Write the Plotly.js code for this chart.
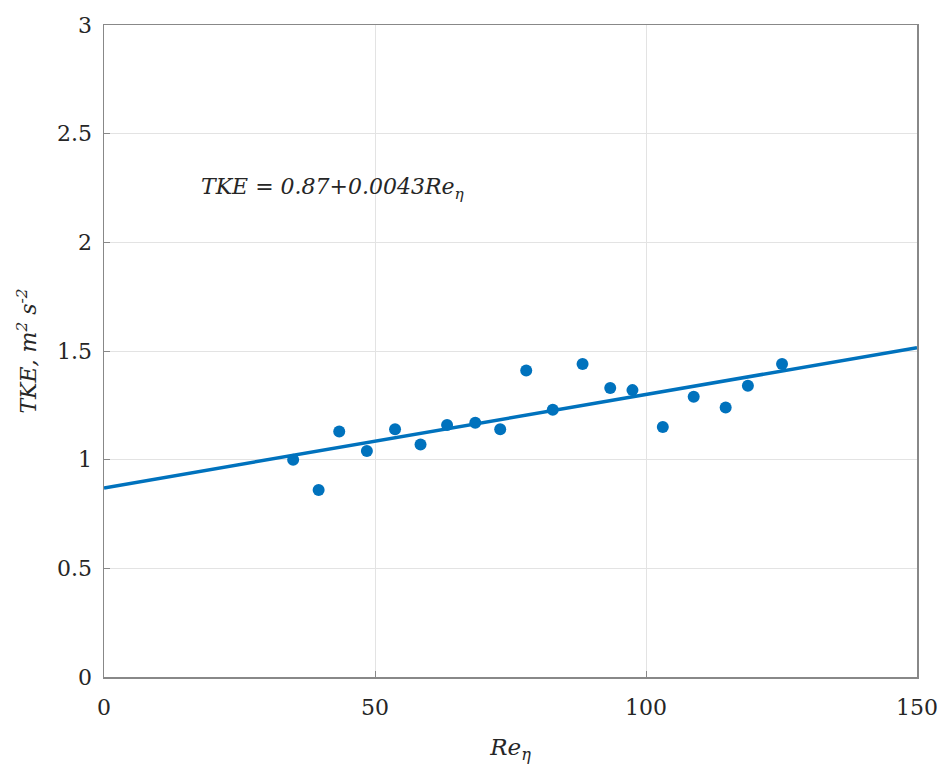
<!DOCTYPE html>
<html>
<head>
<meta charset="utf-8">
<script src="https://cdn.plot.ly/plotly-3.0.1.min.js"></script>
<style>html,body{margin:0;padding:0;background:#fff;}#chart{width:942px;height:767px;}</style>
</head>
<body>
<div id="chart"></div>
<script>
const reEta = [34.9, 39.6, 43.4, 48.5, 53.7, 58.4, 63.3, 68.5, 73.1, 77.9, 82.8, 88.3, 93.4, 97.5, 103.1, 108.8, 114.7, 118.8, 125.1];
const tke   = [1.00, 0.86, 1.13, 1.04, 1.14, 1.07, 1.16, 1.17, 1.14, 1.41, 1.23, 1.44, 1.33, 1.32, 1.15, 1.29, 1.24, 1.34, 1.44];
const fitX = [0, 150];
const intercept = 0.87, slope = 0.0043;
const fitY = fitX.map(x => intercept + slope * x);
const xTicks = [0, 50, 100, 150];
const yTicks = [0, 0.5, 1, 1.5, 2, 2.5, 3];
const yTickText = ['0', '0.5', '1', '1.5', '2', '2.5', '3'];

const blue = '#0072BD';
const font = 'DejaVu Serif, Liberation Serif, serif';

const traces = [
  {x: reEta, y: tke, mode: 'markers', type: 'scatter',
   marker: {color: blue, size: 12}, showlegend: false, hoverinfo: 'skip'},
  {x: fitX, y: fitY, mode: 'lines', type: 'scatter',
   line: {color: blue, width: 3.5}, showlegend: false, hoverinfo: 'skip'}
];

const axisCommon = {
  showline: true, linecolor: '#888', linewidth: 1.5, mirror: true,
  showgrid: true, gridcolor: '#e3e3e3', gridwidth: 1,
  zeroline: false, ticks: 'inside', ticklen: 6, tickcolor: '#888',
  tickfont: {family: font, size: 22, color: '#262626'}
};

const layout = {
  width: 942, height: 767,
  margin: {l: 104, r: 25, t: 25, b: 90},
  paper_bgcolor: '#fff', plot_bgcolor: '#fff',
  xaxis: Object.assign({}, axisCommon, {
    range: [0, 150], tickvals: xTicks, ticktext: xTicks.map(String),
    ticklabelstandoff: 10,
    title: {text: '<i>Re<sub>η</sub></i>', font: {family: font, size: 23, color: '#262626'}, standoff: 20}
  }),
  yaxis: Object.assign({}, axisCommon, {
    range: [0, 3], tickvals: yTicks, ticktext: yTickText,
    ticklabelstandoff: 6,
    title: {text: '<i>TKE, m<sup>2</sup> s<sup>-2</sup></i>', font: {family: font, size: 22, color: '#262626'}, standoff: 14}
  }),
  annotations: [{
    x: 17.5, y: 2.25, xref: 'x', yref: 'y', xanchor: 'left', yanchor: 'middle',
    text: '<i>TKE = 0.87+0.0043Re<sub>η</sub></i>', showarrow: false,
    font: {family: font, size: 22, color: '#262626'}
  }]
};

Plotly.newPlot('chart', traces, layout, {displayModeBar: false, staticPlot: true});
</script>
</body>
</html>
